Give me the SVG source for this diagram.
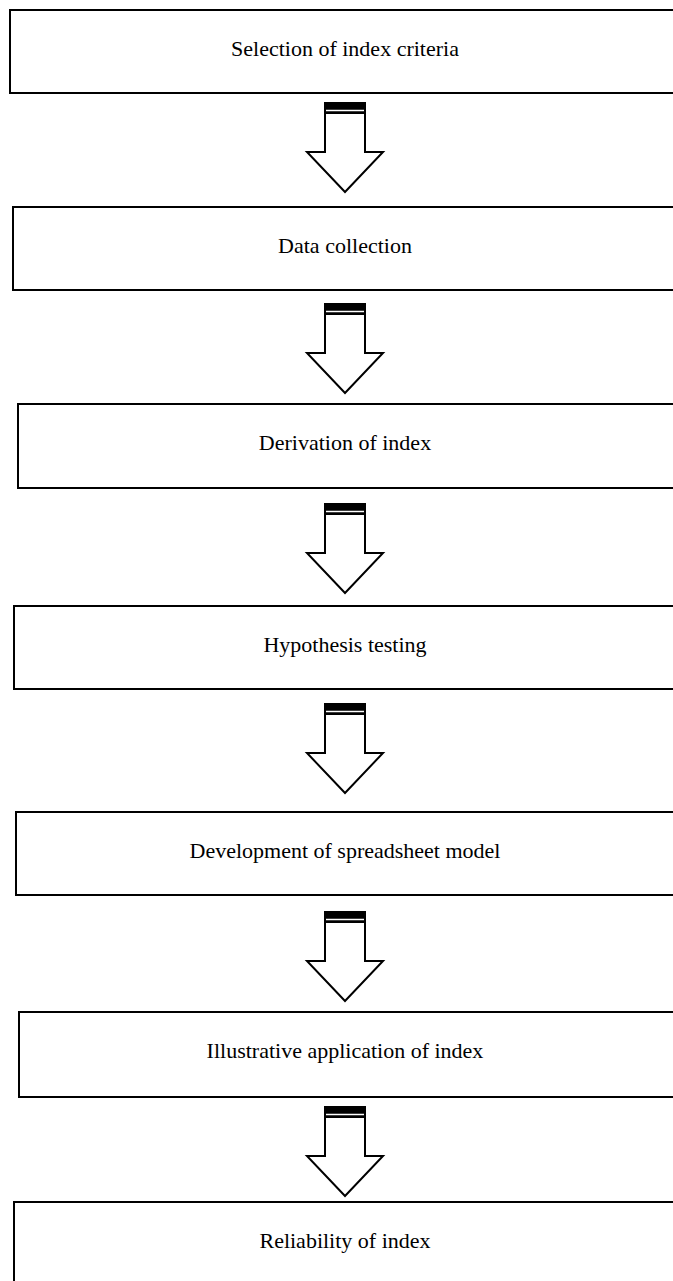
<svg xmlns="http://www.w3.org/2000/svg" width="673" height="1281" viewBox="0 0 673 1281">
<style>
.box{fill:#fff;stroke:#000;stroke-width:2}
.lbl{font-family:"Liberation Serif","Times New Roman",serif;font-size:22px;fill:#000;text-anchor:middle}
.arr{fill:#fff;stroke:#000;stroke-width:2;stroke-linejoin:miter}
.bar{fill:#000}
.gap{stroke:#fff;stroke-width:1.5}
</style>
<defs>
<g id="arrow">
<path class="arr" d="M325,0 L365,0 L365,49 L383,49 L345,89 L307,49 L325,49 Z"/>
<rect class="bar" x="324" y="-1" width="42" height="12"/>
<line class="gap" x1="326" y1="7.5" x2="364" y2="7.5"/>
</g>
</defs>
<g id="connectors">
<use href="#arrow" y="103"/>
<use href="#arrow" y="304"/>
<use href="#arrow" y="504"/>
<use href="#arrow" y="704"/>
<use href="#arrow" y="912"/>
<use href="#arrow" y="1107"/>
</g>
<g id="n1"><rect class="box" x="10" y="10" width="680" height="83"/><text class="lbl" x="345" y="56">Selection of index criteria</text></g>
<g id="n2"><rect class="box" x="13" y="207" width="680" height="83"/><text class="lbl" x="345" y="253">Data collection</text></g>
<g id="n3"><rect class="box" x="18" y="404" width="680" height="84"/><text class="lbl" x="345" y="450">Derivation of index</text></g>
<g id="n4"><rect class="box" x="14" y="606" width="680" height="83"/><text class="lbl" x="345" y="652">Hypothesis testing</text></g>
<g id="n5"><rect class="box" x="16" y="812" width="680" height="83"/><text class="lbl" x="345" y="858">Development of spreadsheet model</text></g>
<g id="n6"><rect class="box" x="19" y="1012" width="680" height="85"/><text class="lbl" x="345" y="1058">Illustrative application of index</text></g>
<g id="n7"><rect class="box" x="14" y="1202" width="680" height="90"/><text class="lbl" x="345" y="1248">Reliability of index</text></g>
</svg>
